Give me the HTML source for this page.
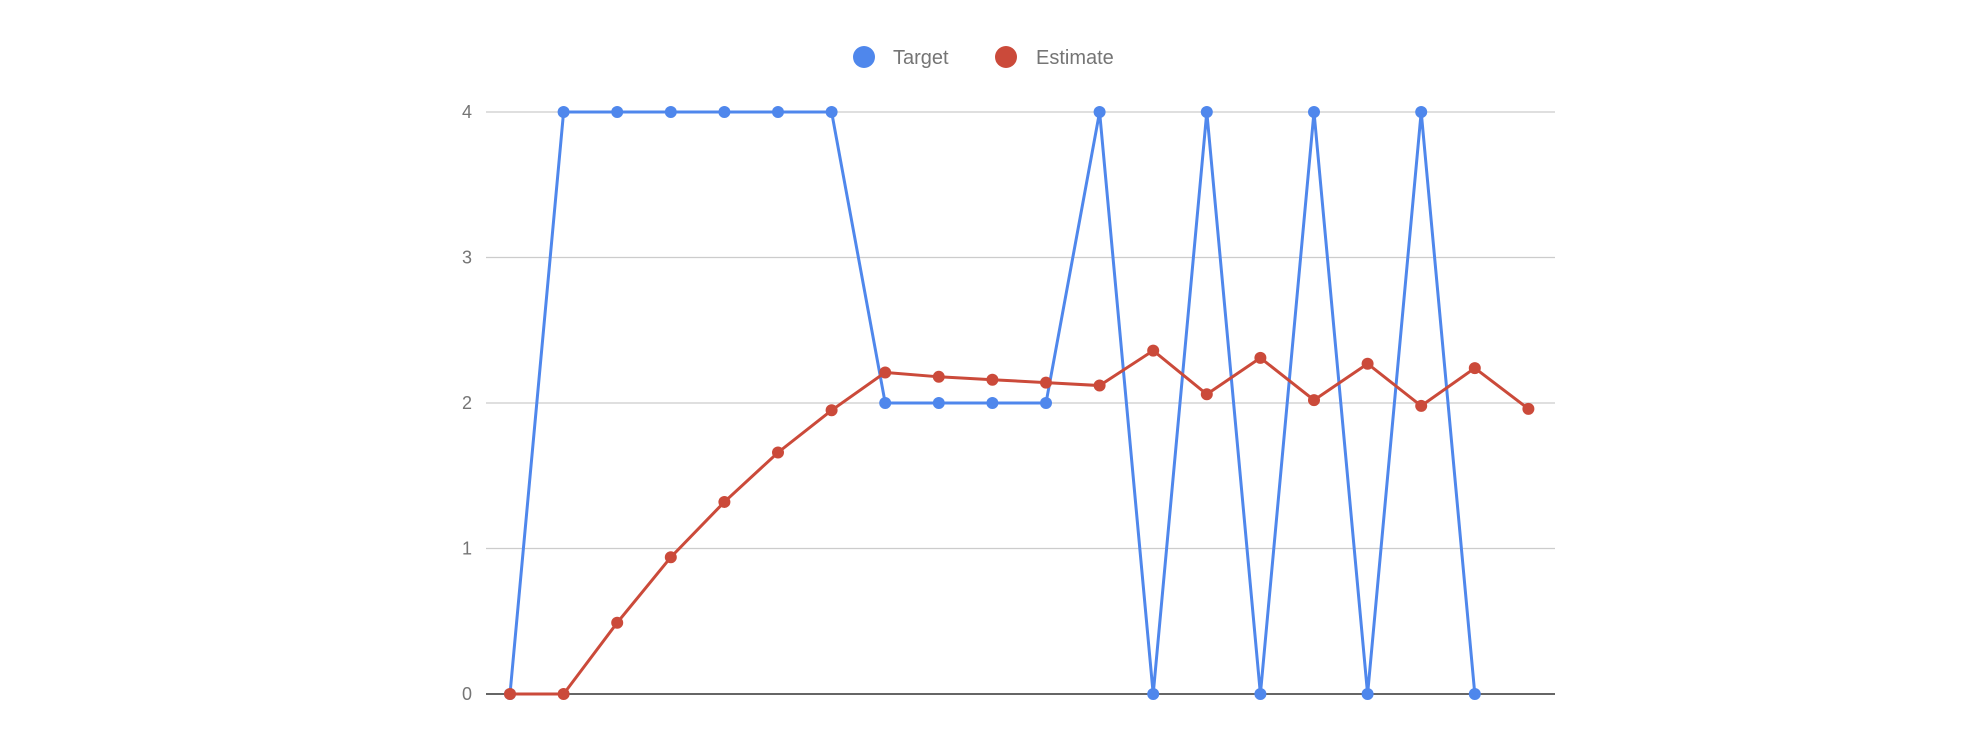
<!DOCTYPE html>
<html><head><meta charset="utf-8"><style>
html,body{margin:0;padding:0;background:#fff;}
svg{display:block;font-family:"Liberation Sans",Arial,sans-serif;}
</style></head><body>
<svg id="chart" width="1976" height="748">
<g id="grid"></g>
<g id="ylabels"></g>
<g id="series"></g>
<g>
<circle cx="864" cy="57" r="11" fill="#4f87ec"/>
<text x="893" y="64" font-size="20" fill="#757575">Target</text>
<circle cx="1006" cy="57" r="11" fill="#cb4a3a"/>
<text x="1036" y="64" font-size="20" fill="#757575">Estimate</text>
</g>
</svg>
<script>
const categories = [0,1,2,3,4,5,6,7,8,9,10,11,12,13,14,15,16,17,18,19];
const targetValues = [0,4,4,4,4,4,4,2,2,2,2,4,0,4,0,4,0,4,0,null];
const estimateValues = [0,0,0.49,0.94,1.32,1.66,1.95,2.21,2.18,2.16,2.14,2.12,2.36,2.06,2.31,2.02,2.27,1.98,2.24,1.96];
const yTicks = [0,1,2,3,4];
const NS='http://www.w3.org/2000/svg';
const x0=510,dx=53.6,yBase=694,yTop=112;
function xs(i){return x0+i*dx;}
function ys(v){return yBase-(v/4)*(yBase-yTop);}
const grid=document.getElementById('grid'),yl=document.getElementById('ylabels'),ser=document.getElementById('series');
yTicks.forEach(t=>{
 const l=document.createElementNS(NS,'line');
 l.setAttribute('x1',486);l.setAttribute('x2',1555);l.setAttribute('y1',ys(t));l.setAttribute('y2',ys(t));
 l.setAttribute('stroke',t===0?'#333':'#ccc');l.setAttribute('stroke-width',t===0?1.5:1.2);
 
 
 grid.appendChild(l);
 const tx=document.createElementNS(NS,'text');
 tx.setAttribute('x',472);tx.setAttribute('y',ys(t)+6);tx.setAttribute('text-anchor','end');
 tx.setAttribute('font-size','18');tx.setAttribute('fill','#757575');tx.textContent=t;
 
 
 yl.appendChild(tx);
});
function draw(vals,color,name){
 const g=document.createElementNS(NS,'g');
 
 
 let d='';
 vals.forEach((v,i)=>{if(v===null)return;d+=(d?'L':'M')+xs(categories[i])+','+ys(v);});
 const p=document.createElementNS(NS,'path');
 p.setAttribute('d',d);p.setAttribute('fill','none');p.setAttribute('stroke',color);p.setAttribute('stroke-width',3);
 
 
 g.appendChild(p);
 vals.forEach((v,i)=>{if(v===null)return;
  const c=document.createElementNS(NS,'circle');
  c.setAttribute('cx',xs(categories[i]));c.setAttribute('cy',ys(v));c.setAttribute('r',6);c.setAttribute('fill',color);
  
  
  g.appendChild(c);
 });
 ser.appendChild(g);
}
draw(targetValues,'#4f87ec','target');
draw(estimateValues,'#cb4a3a','estimate');
</script>
</body></html>
